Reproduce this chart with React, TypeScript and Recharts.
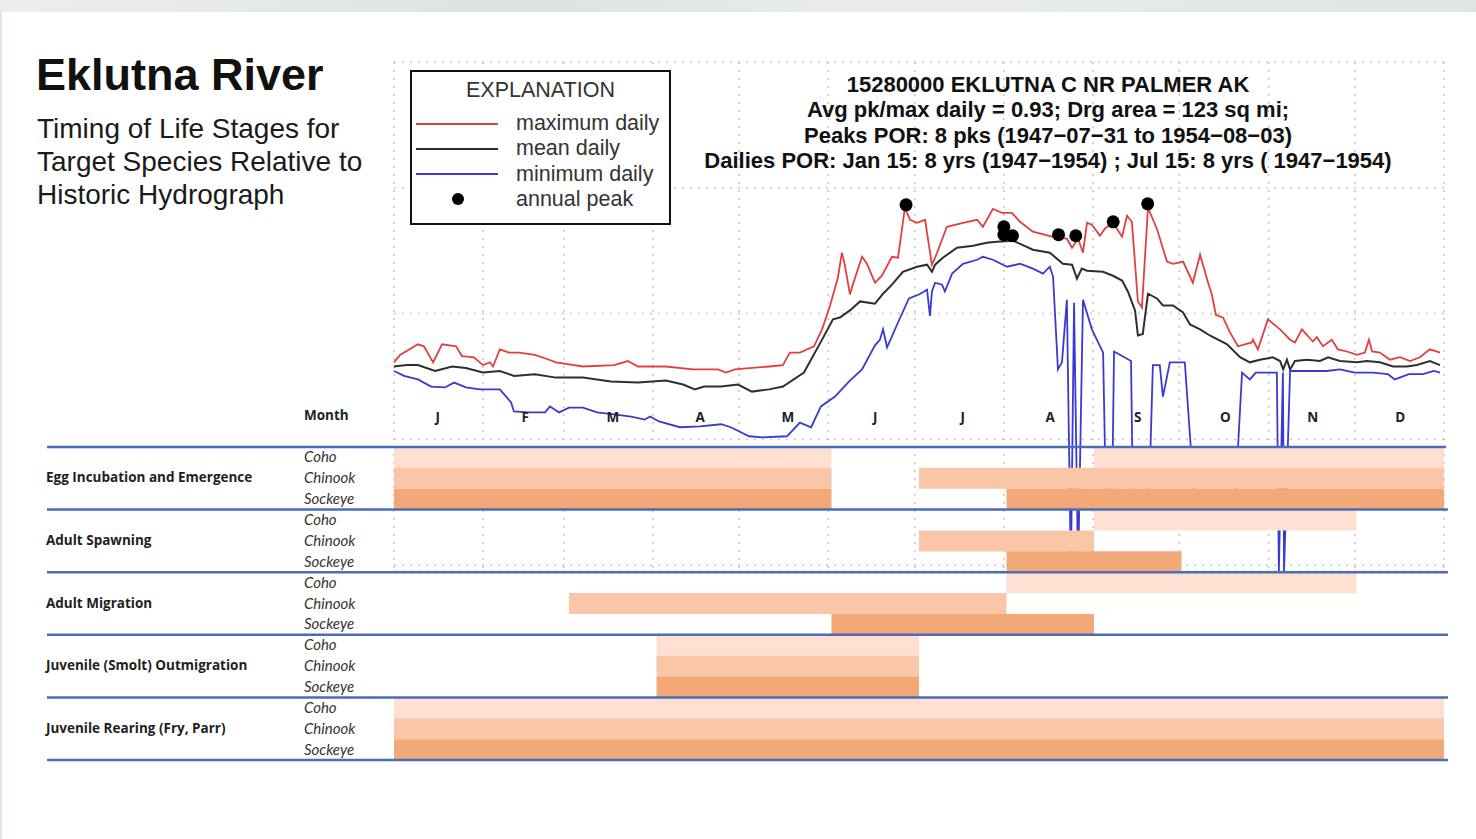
import React from "react";
import {
  ComposedChart,
  Line,
  Scatter,
  XAxis,
  YAxis,
  CartesianGrid,
  Legend,
  BarChart,
  Bar,
  Cell,
} from "recharts";

const W = 1476;
const H = 839;

// Hydrograph: [day of year, flow cfs] (log scale)
const maxDailyPts = [
  [0, 41], [2.1, 47], [8.3, 57], [10.4, 55], [13.6, 41], [16.7, 57], [21.6, 55], [23.6, 46],
  [27.8, 45], [30.9, 39], [33.4, 41], [34.4, 38], [36.8, 52], [40, 49], [43.5, 49], [49, 47],
  [53.9, 43], [56.3, 41], [65.7, 38], [76.5, 39], [81.3, 42], [84.8, 38], [94.5, 38], [103.9, 36],
  [112.6, 36], [115.4, 34], [118.5, 36], [130.4, 38], [135.2, 39], [137.6, 49], [141.1, 49], [146, 55],
  [148.8, 75], [151.6, 116], [154.3, 193], [155.7, 305], [156.7, 245], [158.5, 142], [159.5, 170],
  [162.7, 283], [164.4, 249], [167.2, 176], [169.6, 200], [173.1, 283], [175.2, 278], [177.6, 694],
  [179.4, 557], [181.8, 527], [184.6, 557], [187, 245], [188.1, 278], [192.2, 490], [197.8, 527],
  [202.7, 557], [204.7, 490], [208.2, 681], [211.3, 633], [214.8, 633], [217.6, 537], [222.1, 448],
  [229.1, 408], [233.9, 394], [235.7, 334], [237.8, 394], [239.5, 305], [240.9, 527], [242.6, 509],
  [245.4, 416], [247.1, 473], [249.9, 527], [253.1, 408], [254.8, 600], [256.5, 537], [258.6, 125],
  [260, 112], [262.1, 694], [265.2, 473], [268.7, 259], [270.8, 249], [274.3, 259], [277.7, 176],
  [280.2, 294], [283, 176], [284.3, 142], [285.7, 98], [288.2, 93], [290.6, 71], [293.4, 55],
  [298.2, 59], [298.6, 62], [300.3, 52], [303.8, 90], [308, 75], [311.5, 62], [313.2, 59],
  [315.6, 75], [319.4, 60], [320.8, 65], [322.9, 55], [326, 62], [328.1, 52], [331.3, 50],
  [334.7, 47], [337.5, 49], [338.9, 62], [340, 50], [342.7, 49], [346.2, 43], [349.7, 45],
  [353.2, 42], [356.6, 45], [360.1, 52], [363.6, 49],
];

const meanDailyPts = [
  [0, 38], [4.5, 39], [8.3, 39], [14.3, 35], [20.2, 38], [25, 37], [30.9, 34], [36.8, 35],
  [41.7, 32], [49, 33], [56.3, 31], [65.7, 31], [75.4, 28.9], [84.8, 28.3], [94.5, 29.4],
  [100.5, 27.3], [104.6, 25], [107.8, 26.3], [113.7, 26.3], [119.6, 27.3], [124.4, 24], [130.4, 25],
  [135.2, 26.3], [142.5, 34], [148.1, 58], [152.6, 90], [155, 93], [158.5, 106], [162, 125],
  [167.2, 120], [170, 144], [173.1, 170], [176.9, 215], [181.8, 236], [185.3, 245], [187, 215],
  [188.1, 245], [190.8, 278], [195.7, 334], [201.3, 347], [206.1, 366], [209.6, 373], [215.2, 380],
  [222.1, 322], [228, 305], [232.5, 249], [235.7, 245], [237.4, 190], [239.1, 228], [240.9, 219],
  [246.5, 215], [249.9, 200], [253.1, 183], [255.1, 150], [257.6, 106], [258.6, 67], [260.3, 69],
  [262.1, 144], [265.2, 132], [267.3, 116], [270.8, 116], [274.3, 102], [276.7, 82], [280.2, 75],
  [283.6, 67], [289.6, 57], [294.1, 45], [297.5, 41], [301, 43], [305.5, 45], [308, 42],
  [309.1, 36], [310.4, 43], [311.5, 36], [313.2, 42], [317.4, 43], [321.9, 42], [324.7, 45],
  [328.8, 42], [334.7, 41], [338.2, 42], [342.7, 41], [347.3, 38], [352.1, 38], [355.6, 39],
  [360.1, 42], [363.6, 39],
];

// 0.9 = drop to the bottom of the plot, 3 = drop hidden behind the table
const minDailyPts = [
  [0, 35], [3.5, 32], [8.3, 30], [12.9, 26.3], [17.7, 25.9], [20.9, 28.3], [25, 25.9], [29.9, 25],
  [36.8, 25], [40.7, 19.7], [41.7, 16.7], [46.6, 16.4], [52.5, 16.4], [54.2, 18.3], [57.4, 16.4],
  [60.8, 17.9], [65.7, 17.9], [70.6, 16.4], [76.5, 15.8], [82.4, 15.2], [87.2, 14.4], [89, 15.2],
  [92.1, 13.9], [99.4, 12.5], [106.4, 12.7], [113.7, 13.2], [117.1, 12.5], [123.4, 10.6],
  [127.9, 10.4], [136.6, 10.6], [141.1, 13.6], [145, 12.5], [148.4, 18.3], [153.3, 21.9],
  [158.2, 28.9], [162.7, 36], [167.2, 56], [168.9, 62], [170, 75], [171.4, 54], [175.2, 85],
  [179, 132], [182.5, 142], [185.3, 155], [186.3, 96], [187, 150], [188.1, 176], [190.5, 170],
  [191.5, 150], [194, 208], [197.8, 249], [202.7, 268], [204.7, 283], [208.2, 268], [213.1, 236],
  [217.6, 249], [222.1, 228], [225.6, 208], [228, 236], [229.1, 197], [230.8, 36], [232.2, 41],
  [233.9, 129], [235.3, 0.9], [236.4, 122], [237.8, 0.9], [239.5, 129], [242.6, 75], [246.5, 49],
  [247.5, 3], [249.6, 3], [250.3, 50], [256.2, 42], [256.9, 3], [262.4, 3], [263.8, 39],
  [266.2, 39], [267.3, 21.9], [269.7, 41], [274.9, 41], [278.4, 3], [292.3, 3], [294.8, 34],
  [297.5, 30], [299.6, 34], [306.9, 34], [307.6, 0.9], [309, 34], [309.4, 0.9], [311.5, 35],
  [318.1, 35], [324.3, 35], [328.8, 36], [334, 34], [340.3, 34], [345.5, 33], [347.9, 30],
  [352.8, 33], [357.7, 33], [361.5, 35], [363.6, 34],
];

const peakPts = [
  [178, 733], [212, 490], [212, 424], [215, 416], [231, 424], [237, 416], [250, 537], [262, 746],
];

const monthStartDays = [31, 59, 90, 120, 151, 181, 212, 243, 273, 304, 334];
const flowTicks = [1, 10, 100, 1000, 10000];

const toPoints = (pts: number[][]) => pts.map(([day, cfs]) => ({ day, cfs }));
const maxDaily = toPoints(maxDailyPts);
const meanDaily = toPoints(meanDailyPts);
const minDaily = toPoints(minDailyPts);
const annualPeaks = toPoints(peakPts);

const legendOrder = ["maximum daily", "mean daily", "minimum daily", "annual peak"];

// Life stage table: month ranges [start, end], 0 = Jan 1, 12 = Dec 31
const months = ["J", "F", "M", "A", "M", "J", "J", "A", "S", "O", "N", "D"];
const stages = [
  "Egg Incubation and Emergence",
  "Adult Spawning",
  "Adult Migration",
  "Juvenile (Smolt) Outmigration",
  "Juvenile Rearing (Fry, Parr)",
];
const species = ["Coho", "Chinook", "Sockeye"];
const speciesColors = ["#fde0d1", "#f9c7a7", "#f3a878"];

const eggIncubation = [[[0, 5], [8, 12]], [[0, 5], [6, 12]], [[0, 5], [7, 12]]];
const adultSpawning = [[[8, 11]], [[6, 8]], [[7, 9]]];
const adultMigration = [[[7, 11]], [[2, 7]], [[5, 8]]];
const smoltOutmigration = [[[3, 6]], [[3, 6]], [[3, 6]]];
const juvenileRearing = [[[0, 12]], [[0, 12]], [[0, 12]]];
const stagePeriods = [eggIncubation, adultSpawning, adultMigration, smoltOutmigration, juvenileRearing];

const ganttRows = stages.flatMap((stage, s) =>
  species.map((sp, k) => {
    const [a, b] = stagePeriods[s][k];
    return {
      key: `${stage}|${sp}`,
      stage,
      species: sp,
      speciesIndex: k,
      gap1: a[0],
      seg1: a[1] - a[0],
      gap2: b ? b[0] - a[1] : 0,
      seg2: b ? b[1] - b[0] : 0,
    };
  })
);

const SEP_BLUE = "#4a6db5";
const LABEL_FONT = "'Open Sans', Lato, sans-serif";
const ITALIC_FONT = "Lato, 'Open Sans', sans-serif";
const ARIAL = "'Liberation Sans', Arial, sans-serif";

const MonthTick = ({ x, y, payload }: any) => (
  <text x={x} y={y - 17} textAnchor="middle" fontFamily={LABEL_FONT} fontWeight={700} fontSize={13.5} fill="#222">
    {months[Math.floor(payload.value)]}
  </text>
);

const RowTick = ({ y, payload, index }: any) => {
  const row = ganttRows.find((r) => r.key === payload.value) || ganttRows[index];
  const half = payload.offset || 10.4;
  return (
    <g>
      <text x={304} y={y} dy={5} fontFamily={ITALIC_FONT} fontStyle="italic" fontSize={15} fill="#333">
        {row.species}
      </text>
      {row.speciesIndex === 1 && (
        <text x={46} y={y} dy={4} fontFamily={LABEL_FONT} fontWeight={700} fontSize={13.5} fill="#1e1e1e">
          {row.stage}
        </text>
      )}
      {index === 0 && (
        <line x1={47} x2={1446} y1={y - half} y2={y - half} stroke={SEP_BLUE} strokeWidth={2.5} />
      )}
      {row.speciesIndex === 2 && (
        <line x1={47} x2={1448} y1={y + half} y2={y + half} stroke={SEP_BLUE} strokeWidth={2.5} />
      )}
    </g>
  );
};

const Explanation = ({ payload }: any) => {
  const items = [...(payload || [])].sort(
    (a: any, b: any) => legendOrder.indexOf(a.value) - legendOrder.indexOf(b.value)
  );
  return (
    <div
      style={{
        position: "relative",
        width: 261,
        height: 155,
        boxSizing: "border-box",
        border: "2px solid #111",
        background: "#fff",
        fontFamily: ARIAL,
        color: "#333",
      }}
    >
      <div style={{ position: "absolute", top: 6, left: 0, width: "100%", textAlign: "center", fontSize: 21.5, lineHeight: "25px" }}>
        EXPLANATION
      </div>
      {items.map((entry: any, i: number) => (
        <div key={entry.value} style={{ position: "absolute", left: 0, top: 39 + i * 25.3, height: 25, width: "100%" }}>
          {entry.type === "circle" ? (
            <span
              style={{ position: "absolute", left: 40, top: 6.5, width: 12, height: 12, borderRadius: 6, background: "#000" }}
            />
          ) : (
            <span style={{ position: "absolute", left: 4, top: 11.5, width: 82, height: 2, background: entry.color }} />
          )}
          <span style={{ position: "absolute", left: 104, top: 0, fontSize: 21.5, lineHeight: "25px", whiteSpace: "nowrap" }}>
            {entry.value}
          </span>
        </div>
      ))}
    </div>
  );
};

export default function App() {
  return (
    <div
      style={{
        position: "absolute",
        left: 0,
        top: 0,
        width: W,
        height: H,
        background: "#fff",
        overflow: "hidden",
      }}
    >
      <div
        style={{
          position: "absolute",
          left: 0,
          top: 0,
          width: W,
          height: 12,
          background: "linear-gradient(90deg, #eceeed 0%, #dde3e1 35%, #e9eceb 60%, #dfe5e3 100%)",
        }}
      />
      <div style={{ position: "absolute", left: 0, top: 12, width: 2, height: H - 12, background: "#dfe5ec" }} />

      {/* hydrograph, behind the table */}
      <div style={{ position: "absolute", left: 0, top: 0 }}>
        <ComposedChart width={W} height={H} margin={{ top: 62, right: 32, bottom: 268, left: 394 }}>
          <CartesianGrid stroke="#c6c6c6" strokeWidth={1.5} strokeDasharray="2 6" />
          <XAxis type="number" dataKey="day" domain={[0, 365]} ticks={monthStartDays} hide />
          <YAxis type="number" dataKey="cfs" scale="log" domain={[0.9, 10000]} ticks={flowTicks} hide />
          <Line data={maxDaily} dataKey="cfs" name="maximum daily" type="linear" stroke="#e2403f" strokeWidth={1.8} dot={false} isAnimationActive={false} />
          <Line data={meanDaily} dataKey="cfs" name="mean daily" type="linear" stroke="#2e2e2e" strokeWidth={2} dot={false} isAnimationActive={false} />
          <Line data={minDaily} dataKey="cfs" name="minimum daily" type="linear" stroke="#3a3ad0" strokeWidth={1.8} dot={false} isAnimationActive={false} />
          <Scatter
            data={annualPeaks}
            dataKey="cfs"
            name="annual peak"
            fill="#000"
            legendType="circle"
            isAnimationActive={false}
            shape={(p: any) => <circle cx={p.cx} cy={p.cy} r={6.5} fill="#000" />}
          />
          <Legend
            layout="vertical"
            align="center"
            verticalAlign="middle"
            content={<Explanation />}
            wrapperStyle={{ left: 410, top: 70, width: 261, height: 155 }}
          />
        </ComposedChart>
      </div>

      {/* life stage table, on top */}
      <div style={{ position: "absolute", left: 0, top: 0 }}>
        <BarChart
          layout="vertical"
          width={W}
          height={H}
          data={ganttRows}
          margin={{ top: 407, right: 32, bottom: 79, left: 40 }}
          barCategoryGap={0}
        >
          <XAxis
            type="number"
            orientation="top"
            domain={[0, 12]}
            ticks={months.map((_, i) => i + 0.5)}
            tick={<MonthTick />}
            axisLine={false}
            tickLine={false}
            height={40}
          />
          <YAxis
            type="category"
            dataKey="key"
            width={354}
            interval={0}
            tick={<RowTick />}
            axisLine={false}
            tickLine={false}
          />
          <Bar dataKey="gap1" stackId="t" fill="transparent" isAnimationActive={false} />
          <Bar dataKey="seg1" stackId="t" isAnimationActive={false}>
            {ganttRows.map((r) => (
              <Cell key={r.key} fill={speciesColors[r.speciesIndex]} />
            ))}
          </Bar>
          <Bar dataKey="gap2" stackId="t" fill="transparent" isAnimationActive={false} />
          <Bar dataKey="seg2" stackId="t" isAnimationActive={false}>
            {ganttRows.map((r) => (
              <Cell key={r.key} fill={speciesColors[r.speciesIndex]} />
            ))}
          </Bar>
        </BarChart>
      </div>

      {/* titles */}
      <div
        style={{
          position: "absolute",
          left: 36,
          top: 52,
          fontFamily: ARIAL,
          fontWeight: 700,
          fontSize: 45,
          lineHeight: "45px",
          color: "#111",
          whiteSpace: "nowrap",
        }}
      >
        Eklutna River
      </div>
      <div
        style={{
          position: "absolute",
          left: 37,
          top: 112,
          fontFamily: ARIAL,
          fontSize: 28,
          lineHeight: "33px",
          color: "#1a1a1a",
          whiteSpace: "nowrap",
        }}
      >
        Timing of Life Stages for
        <br />
        Target Species Relative to
        <br />
        Historic Hydrograph
      </div>
      <div
        style={{
          position: "absolute",
          left: 648,
          top: 72,
          width: 800,
          textAlign: "center",
          fontFamily: ARIAL,
          fontWeight: 700,
          fontSize: 22,
          lineHeight: "25.3px",
          color: "#111",
          whiteSpace: "nowrap",
        }}
      >
        15280000 EKLUTNA C NR PALMER AK
        <br />
        Avg pk/max daily = 0.93; Drg area = 123 sq mi;
        <br />
        Peaks POR: 8 pks (1947−07−31 to 1954−08−03)
        <br />
        Dailies POR: Jan 15: 8 yrs (1947−1954) ; Jul 15: 8 yrs ( 1947−1954)
      </div>
      <div
        style={{
          position: "absolute",
          left: 304,
          top: 406,
          fontFamily: LABEL_FONT,
          fontWeight: 700,
          fontSize: 13.5,
          lineHeight: "18px",
          color: "#222",
        }}
      >
        Month
      </div>
    </div>
  );
}
